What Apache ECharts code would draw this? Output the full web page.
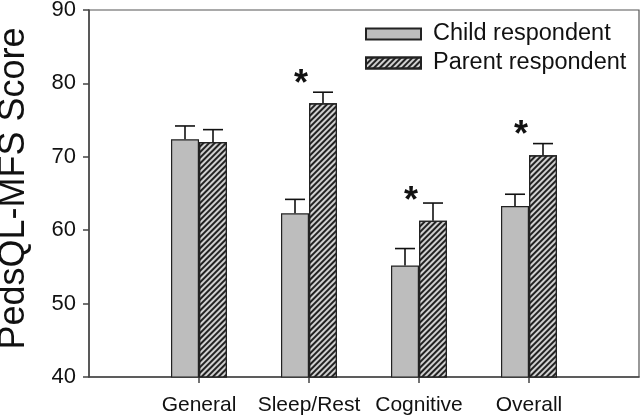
<!DOCTYPE html>
<html>
<head>
<meta charset="utf-8">
<script src="https://cdn.jsdelivr.net/npm/echarts@6/dist/echarts.min.js"></script>
<style>html,body{margin:0;padding:0;background:#fff}#c{width:641px;height:417px}</style>
</head>
<body>
<div id="c"></div>
<script>
// ---- data ----
const categories = ['General', 'Sleep/Rest', 'Cognitive', 'Overall'];
const childScores = [72.4, 62.3, 55.2, 63.3];
const childErrors = [1.8, 1.9, 2.3, 1.6];
const parentScores = [72.0, 77.3, 61.3, 70.2];
const parentErrors = [1.7, 1.5, 2.4, 1.6];
const starLevels = [null, 81.0, 65.0, 74.1];   // "*" significance markers
const yTicks = [40, 50, 60, 70, 80, 90];

// ---- build ----
const pad = arr => [null].concat(arr, [null]);
const axisCats = [''].concat(categories, ['']);
const BAR_W = 28;
const FONT = '"Liberation Sans", Arial, sans-serif';

function errData(vals, errs) {
  return vals.map((v, i) => [i + 1, v, v + errs[i]]);
}
function errRender(offset) {
  return function (params, api) {
    const x = api.value(0);
    const top = api.coord([x, api.value(1)]);
    const cap = api.coord([x, api.value(2)]);
    const cx = top[0] + offset;
    return {
      type: 'group',
      children: [
        { type: 'line', shape: { x1: cx, y1: top[1], x2: cx, y2: cap[1] }, style: { stroke: '#111', lineWidth: 1.6 } },
        { type: 'line', shape: { x1: cx - 10, y1: cap[1], x2: cx + 10, y2: cap[1] }, style: { stroke: '#111', lineWidth: 1.6 } }
      ]
    };
  };
}

const chart = echarts.init(document.getElementById('c'), null, { renderer: 'canvas' });
chart.setOption({
  animation: false,
  backgroundColor: '#fff',
  grid: { left: 89, right: 2, top: 10, bottom: 40, containLabel: false, outerBoundsMode: 'none',
          show: true, borderColor: '#555', borderWidth: 1.2, backgroundColor: 'transparent' },
  legend: {
    orient: 'vertical', left: 360, top: 17, padding: 5, itemWidth: 55, itemHeight: 11, itemGap: 5,
    icon: 'rect',
    data: ['Child respondent', 'Parent respondent'],
    textStyle: { fontFamily: FONT, fontSize: 23.5, color: '#111', padding: [0, 0, 0, 7] }
  },
  xAxis: {
    type: 'category', data: axisCats, boundaryGap: false,
    axisLine: { lineStyle: { color: '#444', width: 1.5 } },
    axisTick: { length: 6, interval: (i) => i > 0 && i < axisCats.length - 1, lineStyle: { color: '#444', width: 1.5 } },
    axisLabel: { interval: 0, fontFamily: FONT, fontSize: 21, color: '#111', margin: 18 },
    splitLine: { show: false }
  },
  yAxis: {
    type: 'value', min: yTicks[0], max: yTicks[yTicks.length - 1], interval: 10,
    name: 'PedsQL-MFS Score', nameLocation: 'middle', nameGap: 57,
    nameTextStyle: { fontFamily: FONT, fontSize: 36, color: '#111', padding: [0, 0, 0, 10] },
    axisLine: { show: true, lineStyle: { color: '#444', width: 1.5 } },
    axisTick: { show: true, length: 6, lineStyle: { color: '#444', width: 1.5 } },
    axisLabel: { fontFamily: FONT, fontSize: 22, color: '#111', margin: 13 },
    splitLine: { show: false }
  },
  series: [
    {
      name: 'Child respondent', type: 'bar', data: pad(childScores), barWidth: BAR_W, barGap: '0%',
      itemStyle: { color: '#bdbdbd', borderColor: '#222', borderWidth: 1.2 }
    },
    {
      name: 'Parent respondent', type: 'bar', data: pad(parentScores), barWidth: BAR_W, barGap: '0%',
      itemStyle: {
        color: '#d0d0d0', borderColor: '#222', borderWidth: 1.2,
        decal: { symbol: 'rect', symbolSize: 1, rotation: -Math.PI / 4, dashArrayX: [[1, 0]], dashArrayY: [1.5, 1.5], color: '#222' }
      }
    },
    { type: 'custom', data: errData(childScores, childErrors), renderItem: errRender(-BAR_W / 2), z: 3, silent: true },
    { type: 'custom', data: errData(parentScores, parentErrors), renderItem: errRender(BAR_W / 2), z: 3, silent: true },
    {
      type: 'custom', z: 4, silent: true,
      data: starLevels.map((v, i) => v == null ? null : [i + 1, v]).filter(d => d),
      renderItem: function (params, api) {
        const p = api.coord([api.value(0), api.value(1)]);
        return { type: 'text', x: p[0] - 8, y: p[1] + 9, style: { text: '*', font: 'bold 36px "Liberation Sans", Arial', fill: '#111', textAlign: 'center', textVerticalAlign: 'middle' } };
      }
    }
  ]
});
</script>
</body>
</html>
